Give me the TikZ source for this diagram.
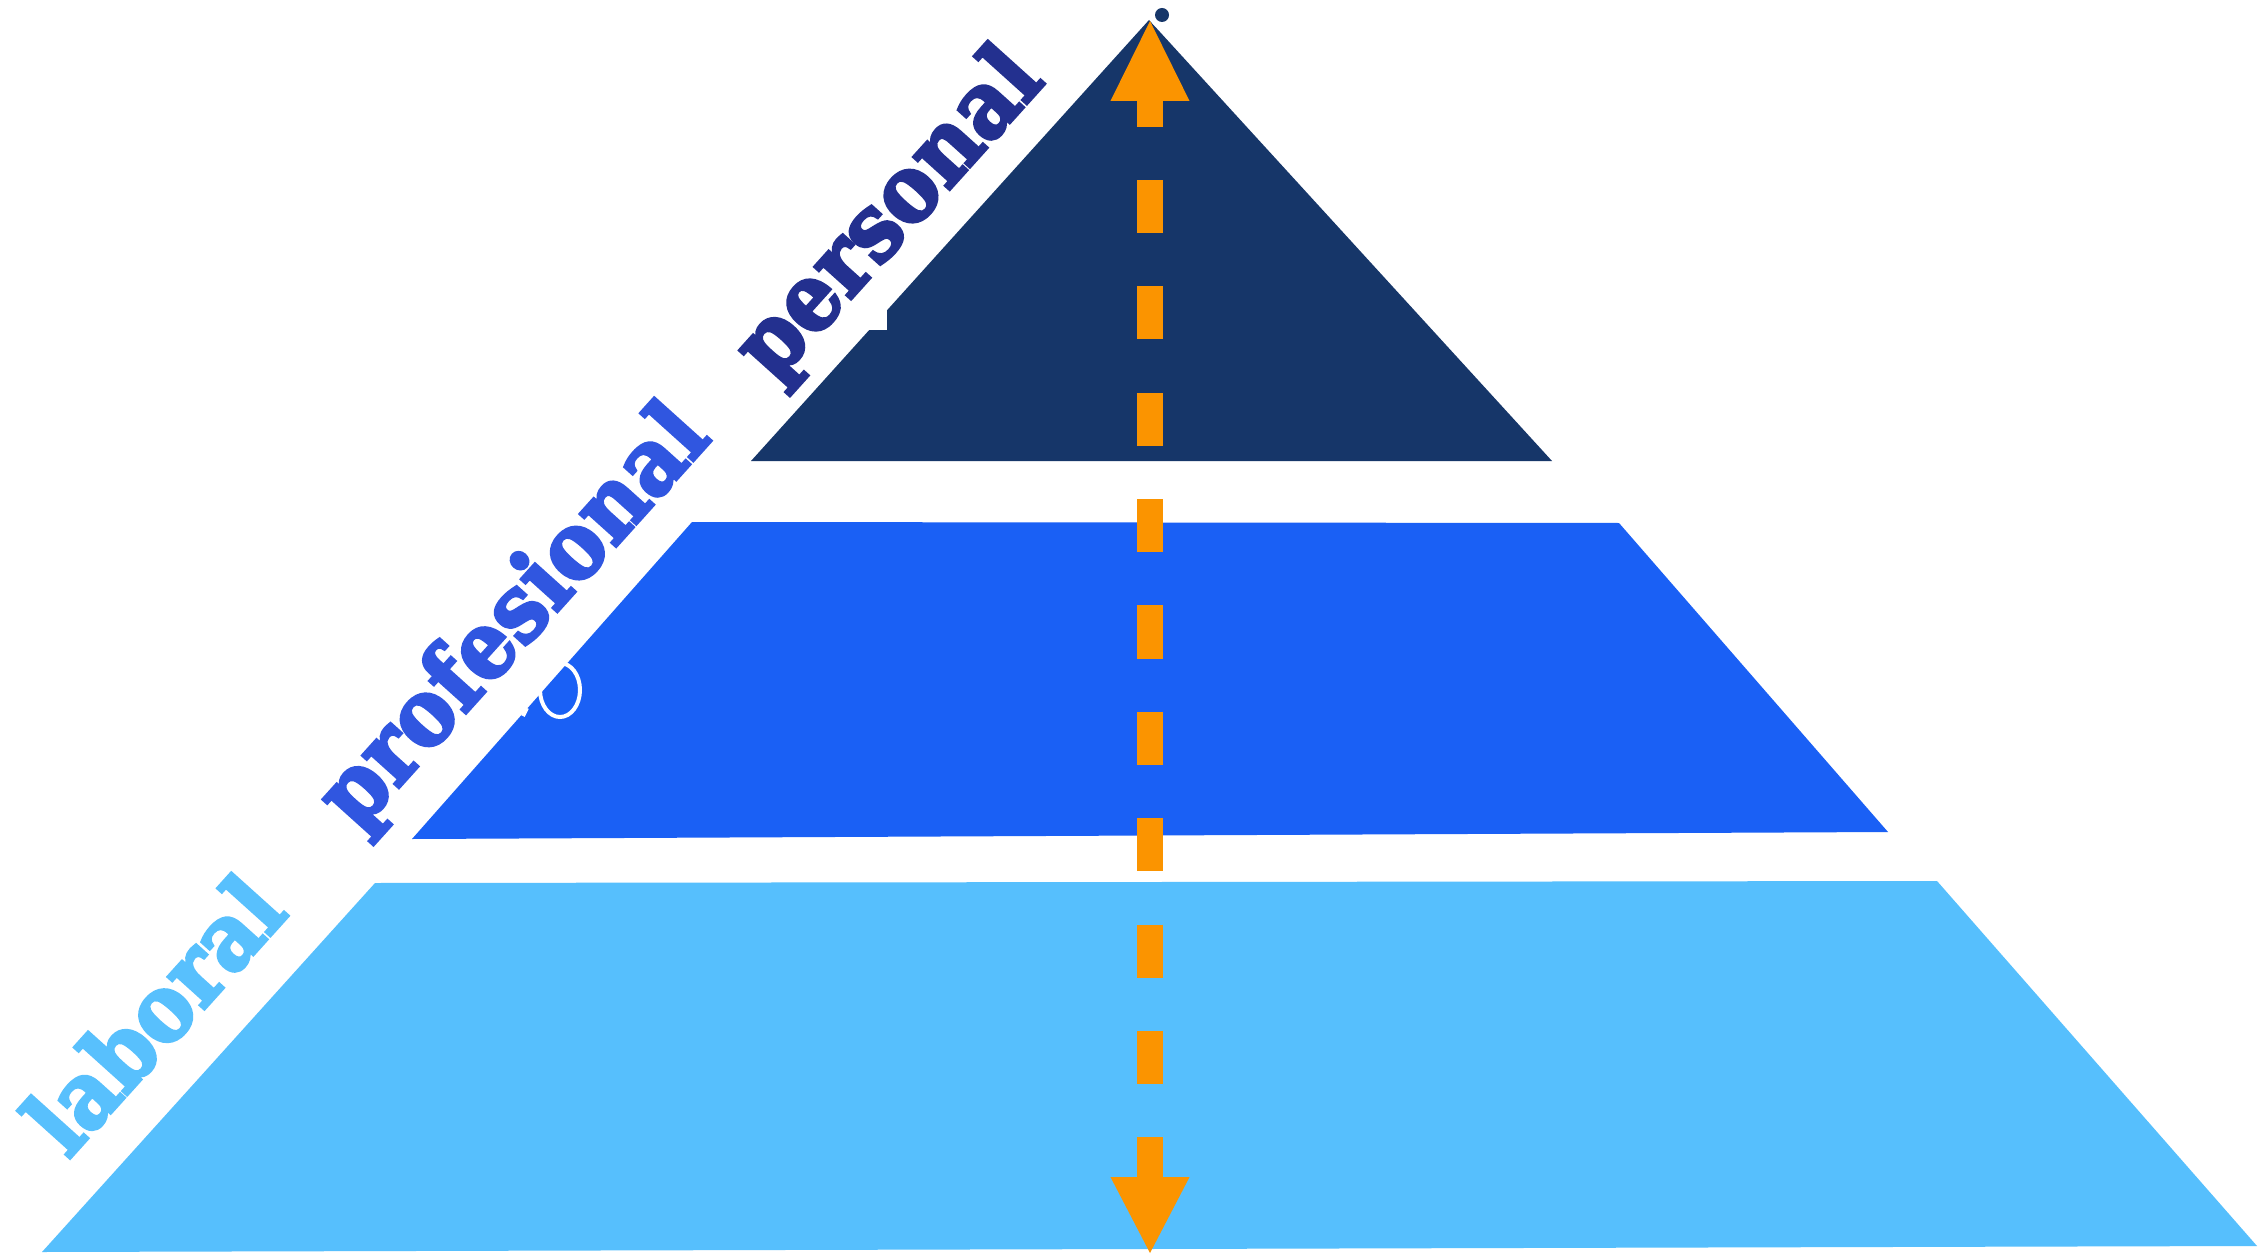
\documentclass[tikz,border=0pt]{standalone}
\usepackage{fontspec}
\newfontfamily\slabfont{DejaVuSerif-Bold.ttf}[FakeBold=3.5]
\definecolor{navy}{HTML}{163669}
\definecolor{midblue}{HTML}{1A60F5}
\definecolor{lightblue}{HTML}{56BFFD}
\definecolor{arroworange}{HTML}{FB9400}
\definecolor{perstext}{HTML}{23308F}
\definecolor{proftext}{HTML}{3056E0}
\definecolor{labtext}{HTML}{58C0FD}
\newcommand{\narrowtext}[1]{\scalebox{0.9}[1]{#1}}
\tikzset{
  label text/.style={font=\slabfont\fontsize{26.5}{26.5}\selectfont, rotate=48, inner sep=0pt},
  shaft/.style={draw=arroworange, line width=0.26cm, dash pattern=on 0.53cm off 0.533cm, dash phase=0.273cm},
  head/.style={fill=arroworange}
}
\begin{document}
\begin{tikzpicture}[x=0.01cm, y=-0.01cm]
\useasboundingbox[fill=white] (0,0) rectangle (2261,1255);
% levels
\fill[lightblue] (375,883) -- (1937,881) -- (2257,1246) -- (42,1252) -- cycle;
\fill[midblue] (692,522) -- (1619,523) -- (1888,832) -- (412,839) -- cycle;
\fill[navy] (1149,20) -- (1552,461) -- (751,461) -- cycle;
% artifacts
\fill[white] (866,310) rectangle (887,330);
\draw[white, line width=0.04cm] (560,690) ellipse [x radius=20, y radius=27];
\draw[white, line width=0.04cm] (527,708) -- (523,716);
\fill[white] (1161,18) circle [radius=10];
\fill[navy] (1162,15) circle [radius=7];
% arrow
\coordinate (toptip) at (1150,21);
\coordinate (topbase) at (1150,101);
\coordinate (botbase) at (1150,1177);
\coordinate (bottip) at (1150,1253);
\draw[shaft] (topbase) -- (botbase);
\fill[head] (toptip) -- ([xshift=0.395cm]topbase) -- ([xshift=-0.395cm]topbase) -- cycle;
\fill[head] (bottip) -- ([xshift=0.395cm]botbase) -- ([xshift=-0.395cm]botbase) -- cycle;
% labels
\node[label text, text=labtext] (lab) at (153,1014) {\narrowtext{laboral}};
\node[label text, text=proftext] (prof) at (516,619) {\narrowtext{profesional}};
\node[label text, text=perstext] (pers) at (891,216) {\narrowtext{personal}};
\end{tikzpicture}
\end{document}
